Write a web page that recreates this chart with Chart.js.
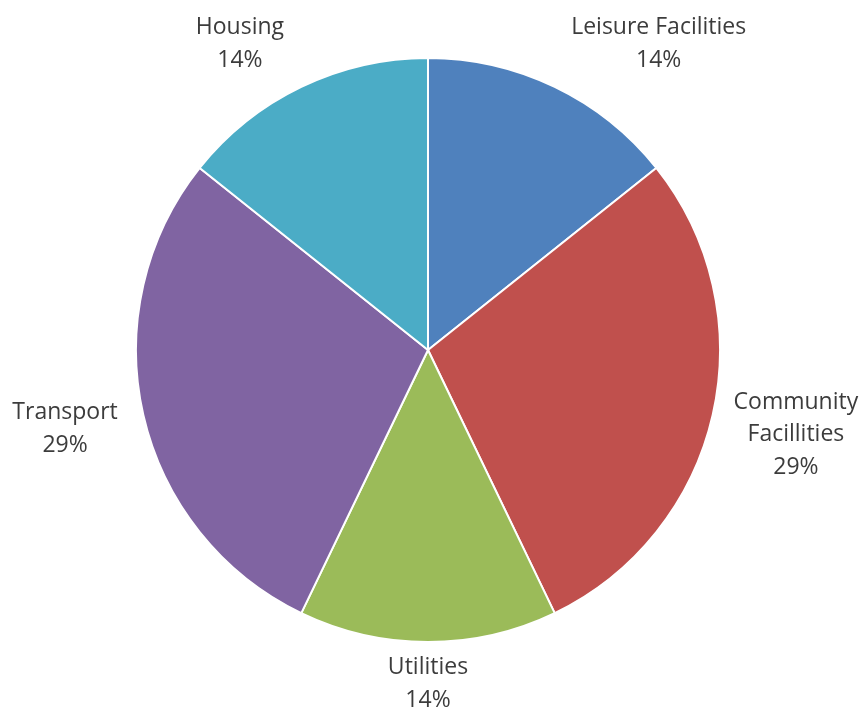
<!DOCTYPE html>
<html lang="en">
<head>
    <meta charset="UTF-8">
    <title>Facilities Pie</title>
    <script src="https://cdn.jsdelivr.net/npm/chart.js"></script>
    <style>
        body { margin: 0; background: #fff; }
        .chart-container { position: relative; width: 861px; height: 707px; }
    </style>
</head>
<body>
<div class="chart-container">
    <canvas id="pieChart"></canvas>
</div>
<script>
    // Slices go clockwise from 12 o'clock
    const categories = ["Leisure Facilities", "Community\nFacillities", "Utilities", "Transport", "Housing"];
    const values = [1, 2, 1, 2, 1];
    const colors = ["#4F81BD", "#C0504D", "#9BBB59", "#8064A2", "#4BACC6"];

    // label block centres, relative to pie centre, in units of the radius
    const labelOffsets = [
        [0.79, -1.048],
        [1.26, 0.29],
        [0.0, 1.143],
        [-1.243, 0.27],
        [-0.644, -1.048]
    ];

    const total = values.reduce((a, b) => a + b, 0);

    // draws "name / pct" text next to each slice
    const outsideLabels = {
        id: "outsideLabels",
        afterDatasetsDraw(chart) {
            const ctx = chart.ctx;
            const meta = chart.getDatasetMeta(0);
            ctx.save();
            ctx.font = "23px 'Open Sans'";
            ctx.fillStyle = "#3c3c3c";
            ctx.textAlign = "center";
            ctx.textBaseline = "middle";
            meta.data.forEach((arc, i) => {
                const r = arc.outerRadius;
                const cx = arc.x + labelOffsets[i][0] * r;
                const cy = arc.y + labelOffsets[i][1] * r;
                const pct = Math.round(values[i] / total * 100) + "%";
                const lines = categories[i].split("\n").concat([pct]);
                const lh = 32.5;
                const top = cy - (lines.length - 1) * lh / 2;
                lines.forEach((t, k) => ctx.fillText(t, cx, top + k * lh));
            });
            ctx.restore();
        }
    };

    new Chart(document.getElementById("pieChart"), {
        type: "pie",
        data: {
            labels: categories,
            datasets: [{
                data: values,
                backgroundColor: colors,
                borderColor: "#ffffff",
                borderWidth: 2
            }]
        },
        options: {
            responsive: true,
            maintainAspectRatio: false,
            animation: false,
            layout: { padding: { top: 57, bottom: 64, left: 135, right: 140 } },
            plugins: {
                legend: { display: false },
                tooltip: { enabled: false }
            }
        },
        plugins: [outsideLabels]
    });
</script>
</body>
</html>
